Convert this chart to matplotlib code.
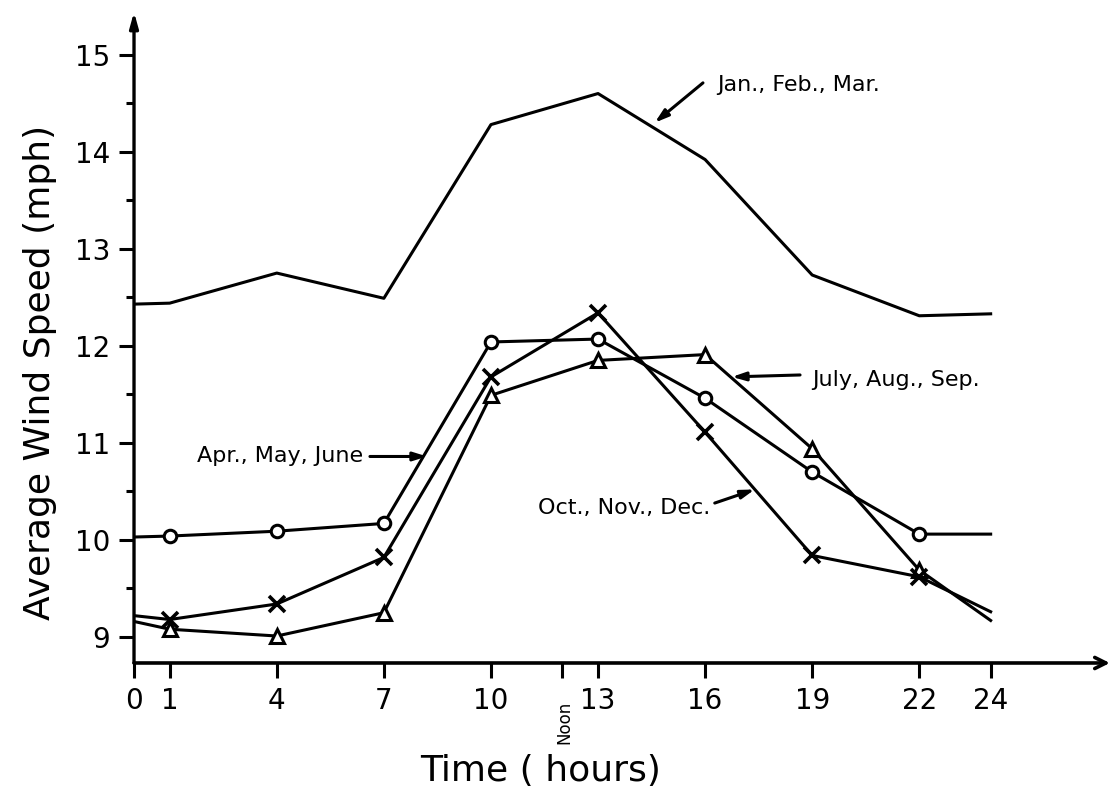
import matplotlib
matplotlib.use("Agg")
import matplotlib.pyplot as plt
from matplotlib.transforms import blended_transform_factory

# Average wind speed by time of day, one series per quarter of the year
hours = [0, 1, 4, 7, 10, 13, 16, 19, 22, 24]
jan_mar = [12.43, 12.44, 12.75, 12.49, 14.28, 14.60, 13.92, 12.73, 12.31, 12.33]
apr_jun = [10.03, 10.04, 10.09, 10.17, 12.04, 12.07, 11.46, 10.70, 10.06, 10.06]
jul_sep = [9.16, 9.08, 9.01, 9.25, 11.49, 11.85, 11.91, 10.94, 9.69, 9.17]
oct_dec = [9.22, 9.18, 9.34, 9.82, 11.68, 12.34, 11.11, 9.84, 9.62, 9.26]

x_ticks = [0, 1, 4, 7, 10, 12, 13, 16, 19, 22, 24]
x_tick_labels = ["0", "1", "4", "7", "10", "", "13", "16", "19", "22", "24"]
y_ticks = [9, 10, 11, 12, 13, 14, 15]
y_minor = [9.5, 10.5, 11.5, 12.5, 13.5, 14.5]

plt.rcParams["font.family"] = ["DejaVu Sans"]

fig = plt.figure(figsize=(11.14, 7.96), dpi=100)
ax = fig.add_axes([0.1203, 0.1671, 0.876, 0.8178])
ax.set_xlim(0, 27.34)
ax.set_ylim(8.732, 15.44)

lw = 2.2
mid = slice(1, -1)
ax.plot(hours, jan_mar, color="black", lw=lw)
ax.plot(hours, apr_jun, color="black", lw=lw, marker="o", markevery=mid,
        markersize=9, markerfacecolor="white", markeredgewidth=2.2)
ax.plot(hours, jul_sep, color="black", lw=lw, marker="^", markevery=mid,
        markersize=10, markerfacecolor="white", markeredgewidth=2.2)
ax.plot(hours, oct_dec, color="black", lw=lw, marker="x", markevery=mid,
        markersize=12, markeredgewidth=2.6)

# Hand-drawn style axes with arrowheads
for side in ("top", "right", "left", "bottom"):
    ax.spines[side].set_visible(False)
ax.annotate("", xy=(0, 1), xytext=(0, 0), xycoords="axes fraction",
            arrowprops=dict(arrowstyle="-|>,head_length=0.9,head_width=0.25",
                            lw=2.4, color="black", shrinkA=0, shrinkB=0))
ax.annotate("", xy=(1, 0), xytext=(0, 0), xycoords="axes fraction",
            arrowprops=dict(arrowstyle="->,head_length=0.8,head_width=0.4",
                            lw=2.6, color="black", shrinkA=0, shrinkB=0))

ax.set_xticks(x_ticks)
ax.set_xticklabels(x_tick_labels, fontsize=20)
ax.set_yticks(y_ticks)
ax.set_yticklabels([str(v) for v in y_ticks], fontsize=20)
ax.set_yticks(y_minor, minor=True)
ax.tick_params(axis="both", which="major", direction="out", length=11,
               width=2.2, color="black", pad=6)
ax.tick_params(axis="y", which="minor", direction="out", length=6,
               width=2.2, color="black")

trans = blended_transform_factory(ax.transData, ax.transAxes)
ax.text(12.07, -0.058, "Noon", rotation=90, fontsize=12, ha="center",
        va="top", transform=trans)

ax.set_ylabel("Average Wind Speed (mph)", fontsize=26)
ax.yaxis.set_label_coords(-0.079, 0.447)
ax.set_xlabel("Time ( hours)", fontsize=26)
ax.xaxis.set_label_coords(11.4 / 27.34, -0.14)

# Series labels with pointer arrows
arrow = dict(arrowstyle="-|>,head_length=0.8,head_width=0.25", lw=2.2,
             color="black", shrinkA=0, shrinkB=0)
labels = [
    ("Jan., Feb., Mar.", (16.33, 14.69), "left", (15.94, 14.71), (14.59, 14.30)),
    ("July, Aug., Sep.", (18.99, 11.65), "left", (18.66, 11.70), (16.75, 11.68)),
    ("Apr., May, June", (6.41, 10.87), "right", (6.61, 10.86), (8.21, 10.86)),
    ("Oct., Nov., Dec.", (16.13, 10.33), "right", (16.27, 10.38), (17.39, 10.52)),
]
for text, pos, align, tail, head in labels:
    ax.text(pos[0], pos[1], text, fontsize=16, ha=align, va="center")
    ax.annotate("", xy=head, xytext=tail, arrowprops=arrow)

fig.savefig("out.png", dpi=100)
